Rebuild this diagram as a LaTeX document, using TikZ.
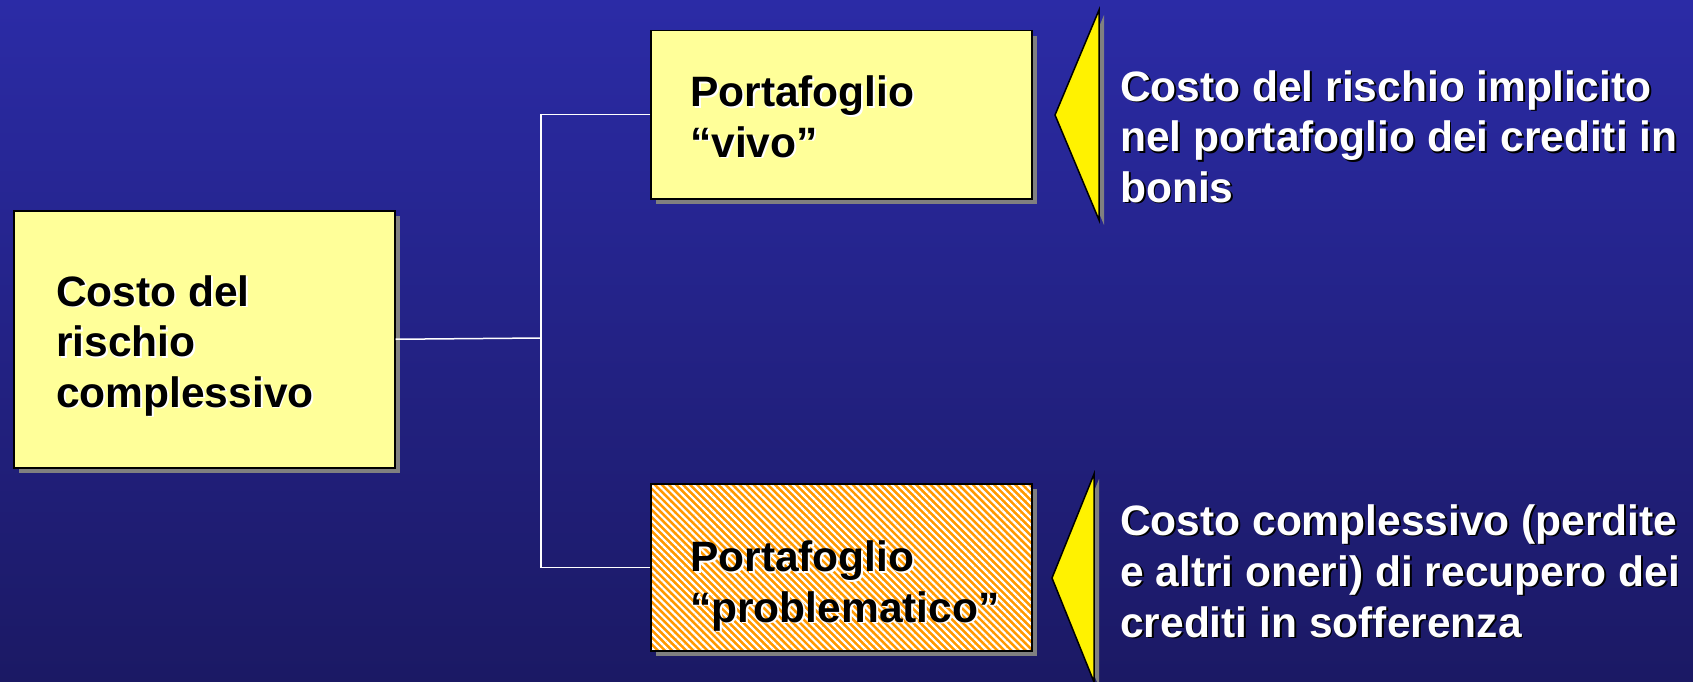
\documentclass[tikz,border=0pt]{standalone}
\usepackage{fontspec}
\setmainfont{Liberation Sans}
\usetikzlibrary{shadows,patterns.meta}
\definecolor{bgtop}{RGB}{43,43,166}
\definecolor{bgbottom}{RGB}{27,25,100}
\definecolor{boxyellow}{RGB}{255,255,153}
\definecolor{hatchorange}{RGB}{255,153,0}
\definecolor{shadowgray}{RGB}{128,128,128}
\newcommand{\shadowed}[3]{\rlap{\kern1.8pt\raisebox{-1.8pt}{\textcolor{#1}{#3}}}\textcolor{#2}{#3}}
\newcommand{\boxline}[1]{\shadowed{white}{black}{#1}}
\newcommand{\noteline}[1]{\shadowed{black}{white}{#1}}
\begin{document}
\begin{tikzpicture}[x=1pt,y=-1pt,
            frame/.style={draw=black,line width=1.5pt,inner sep=0pt,anchor=north west,
                general shadow={fill=shadowgray,shadow xshift=5pt,shadow yshift=-5pt}},
            box/.style={frame,fill=boxyellow},
            hatched/.style={frame,preaction={fill=hatchorange},
                preaction={pattern={Lines[angle=-45,distance=5pt,line width=2.2pt]},pattern color=white}},
            txt/.style={anchor=base west,align=left,inner sep=0pt,
                font=\fontsize{42.5}{50.5}\selectfont\bfseries},
            wire/.style={draw=white,line width=1.5pt},
            pointer/.style={draw=black,line width=1.5pt,fill=yellow,line join=miter,
                general shadow={fill=shadowgray,shadow xshift=5pt,shadow yshift=-5pt}}]
            \shade[top color=bgtop,bottom color=bgbottom] (0,0) rectangle (1693,682);
            \useasboundingbox (0,0) rectangle (1693,682);

            \node[box,minimum width=381pt,minimum height=257pt] (box1) at (13,210) {};
            \node[box,minimum width=381pt,minimum height=168pt] (box2) at (650,30) {};
            \node[hatched,minimum width=381pt,minimum height=167pt] (box3) at (650,483) {};

            \coordinate (fork) at (541,338);
            \draw[wire] (box1.east) -- (fork);
            \draw[wire] (box2.west) -| (fork) |- (box3.west);

            \node[txt] (complessivo) at (56,407) {\boxline{Costo del}\\\boxline{rischio}\\\boxline{complessivo}};
            \node[txt] (vivo) at (690,157) {\boxline{Portafoglio}\\\boxline{“vivo”}};
            \node[txt] (problematico) at (690,622) {\boxline{Portafoglio}\\\boxline{“problematico”}};

            \draw[pointer] (1099,10) -- (1099,220) -- (1055,115) -- cycle;
            \draw[pointer] (1094,474) -- (1094,682) -- (1052,578) -- cycle;

            \node[txt] (bonis) at (1120,202) {\noteline{Costo del rischio implicito}\\\noteline{nel portafoglio dei crediti in}\\\noteline{bonis}};
            \node[txt,font=\fontsize{42.5}{51}\selectfont\bfseries] (sofferenza) at (1120,637) {\noteline{Costo complessivo (perdite}\\\noteline{e altri oneri) di recupero dei}\\\noteline{crediti in sofferenza}};
        \end{tikzpicture}
\end{document}
